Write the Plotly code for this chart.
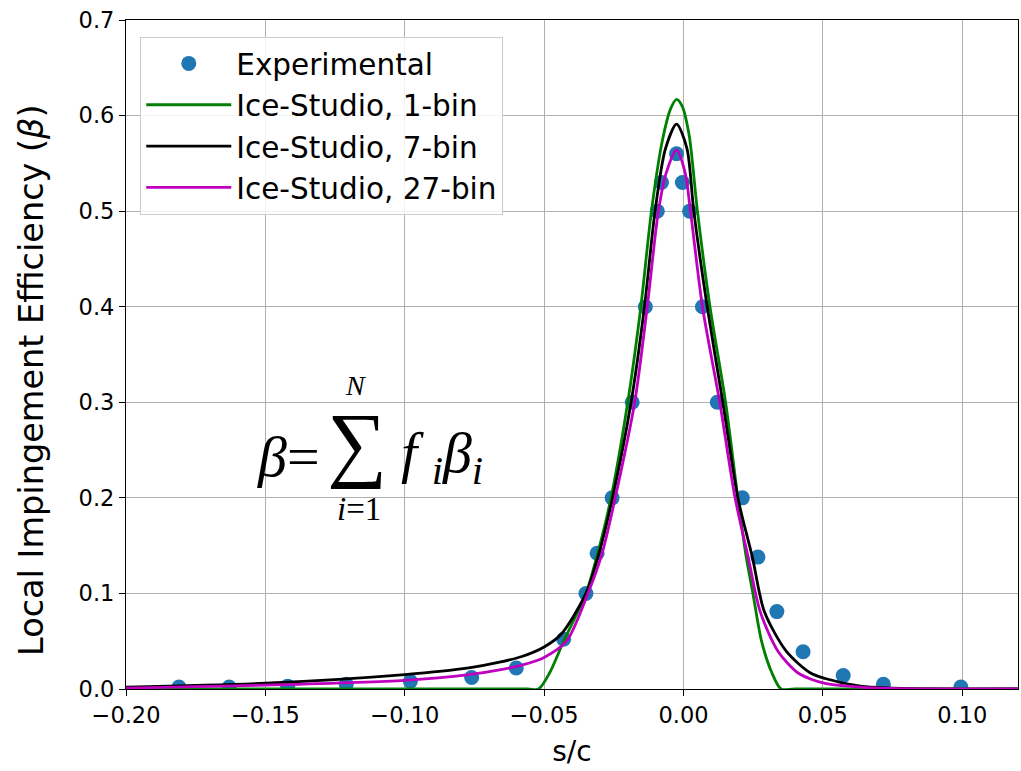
import plotly.graph_objects as go

# Experimental data
exp_x = [-0.181, -0.163, -0.142, -0.121, -0.098, -0.076, -0.060, -0.043, -0.035, -0.031,
         -0.0256, -0.0184, -0.0137, -0.0094, -0.0079, -0.0025, -0.0004, 0.0022, 0.0068, 0.0121,
         0.0211, 0.0267, 0.0335, 0.0429, 0.0573, 0.0717, 0.0995]
exp_y = [0.002, 0.002, 0.003, 0.005, 0.008, 0.012, 0.022, 0.052, 0.100, 0.142,
         0.200, 0.300, 0.400, 0.500, 0.530, 0.560, 0.530, 0.500, 0.400, 0.300,
         0.200, 0.138, 0.081, 0.039, 0.014, 0.005, 0.002]

# Ice-Studio, 1-bin
bin1_x = [-0.20, -0.10, -0.056, -0.052, -0.048, -0.043, -0.035, -0.0305, -0.026, -0.020,
          -0.0153, -0.0115, -0.0075, -0.0045, -0.0025, -0.0005, 0.002, 0.005, 0.0095, 0.0151,
          0.0195, 0.0225, 0.0249, 0.028, 0.0317, 0.035, 0.04, 0.12]
bin1_y = [0.0, 0.0, 0.0, 0.0, 0.017, 0.050, 0.100, 0.145, 0.200, 0.300,
          0.400, 0.500, 0.575, 0.608, 0.617, 0.610, 0.580, 0.500, 0.400, 0.300,
          0.200, 0.138, 0.100, 0.050, 0.017, 0.0, 0.0, 0.0]

# Ice-Studio, 7-bin
bin7_x = [-0.20, -0.15, -0.10, -0.077, -0.066, -0.058, -0.050, -0.044, -0.035, -0.0303,
          -0.0256, -0.0188, -0.0140, -0.0102, -0.0065, -0.0025, 0.0012, 0.0037, 0.0085, 0.0141,
          0.0195, 0.0247, 0.029, 0.037, 0.0454, 0.0508, 0.0635, 0.075, 0.09, 0.12]
bin7_y = [0.002, 0.006, 0.015, 0.022, 0.028, 0.034, 0.044, 0.057, 0.100, 0.142,
          0.198, 0.300, 0.400, 0.500, 0.565, 0.591, 0.566, 0.500, 0.400, 0.300,
          0.200, 0.138, 0.081, 0.039, 0.017, 0.011, 0.003, 0.001, 0.0, 0.0]

# Ice-Studio, 27-bin
bin27_x = [-0.20, -0.15, -0.10, -0.077, -0.066, -0.058, -0.050, -0.042, -0.0343, -0.0292,
           -0.0245, -0.0175, -0.013, -0.0090, -0.0062, -0.0025, 0.0006, 0.0025, 0.0068, 0.013,
           0.0185, 0.0232, 0.0275, 0.034, 0.041, 0.046, 0.0508, 0.0635, 0.075, 0.09, 0.12]
bin27_y = [0.001, 0.004, 0.009, 0.015, 0.020, 0.025, 0.033, 0.050, 0.100, 0.142,
           0.200, 0.300, 0.400, 0.500, 0.540, 0.564, 0.540, 0.500, 0.400, 0.300,
           0.200, 0.138, 0.081, 0.039, 0.017, 0.010, 0.006, 0.002, 0.0005, 0.0, 0.0]

x_ticks = [-0.20, -0.15, -0.10, -0.05, 0.00, 0.05, 0.10]
y_ticks = [0.0, 0.1, 0.2, 0.3, 0.4, 0.5, 0.6, 0.7]

fig = go.Figure()
fig.add_trace(go.Scatter(x=exp_x, y=exp_y, mode="markers", name="Experimental",
                         marker=dict(color="#1f77b4", size=15)))
fig.add_trace(go.Scatter(x=bin1_x, y=bin1_y, mode="lines", name="Ice-Studio, 1-bin",
                         line=dict(color="#008000", width=2.8, shape="spline", smoothing=0.8)))
fig.add_trace(go.Scatter(x=bin7_x, y=bin7_y, mode="lines", name="Ice-Studio, 7-bin",
                         line=dict(color="#000000", width=2.8, shape="spline", smoothing=0.8)))
fig.add_trace(go.Scatter(x=bin27_x, y=bin27_y, mode="lines", name="Ice-Studio, 27-bin",
                         line=dict(color="#bf00bf", width=2.8, shape="spline", smoothing=0.8)))

serif = "Liberation Serif"
fig.add_annotation(x=-0.1536, y=0.243, xref="x", yref="y", xanchor="left", yanchor="middle",
                   text="<i>β</i>=", showarrow=False, font=dict(family=serif, size=58, color="black"))
fig.add_annotation(x=-0.1170, y=0.258, xref="x", yref="y", xanchor="center", yanchor="middle",
                   text="∑", showarrow=False, font=dict(family=serif, size=84, color="black"))
fig.add_annotation(x=-0.1175, y=0.318, xref="x", yref="y", xanchor="center", yanchor="middle",
                   text="<i>N</i>", showarrow=False, font=dict(family=serif, size=28, color="black"))
fig.add_annotation(x=-0.1163, y=0.188, xref="x", yref="y", xanchor="center", yanchor="middle",
                   text="<i>i</i>=1", showarrow=False, font=dict(family=serif, size=33, color="black"))
fig.add_annotation(x=-0.1020, y=0.243, xref="x", yref="y", xanchor="left", yanchor="middle",
                   text="<i>f</i> <sub><i>i</i></sub><i>β</i><sub><i>i</i></sub>", showarrow=False,
                   font=dict(family=serif, size=58, color="black"))

# y-axis label as a rotated annotation (positioned like the reference)
fig.add_annotation(x=-0.1054, y=0.462, xref="paper", yref="paper", xanchor="center", yanchor="middle",
                   text="Local Impingement Efficiency (<i>β</i>)", textangle=-90, showarrow=False,
                   font=dict(family="DejaVu Sans", size=33.5, color="black"))

axis_common = dict(showgrid=True, gridcolor="#b0b0b0", gridwidth=1,
                   showline=True, linecolor="black", linewidth=1.2, mirror=True,
                   ticks="outside", ticklen=6, tickwidth=1.2, tickcolor="black",
                   tickfont=dict(family="DejaVu Sans", size=22.5, color="black"),
                   zeroline=False)

fig.update_layout(
    width=1021, height=771,
    margin=dict(l=126, r=3, t=20, b=82),
    paper_bgcolor="white", plot_bgcolor="white",
    font=dict(family="DejaVu Sans", color="black"),
    xaxis=dict(range=[-0.20, 0.12], tickvals=x_ticks, tickformat=".2f",
               title=dict(text="s/c", font=dict(family="DejaVu Sans", size=28), standoff=14),
               **axis_common),
    yaxis=dict(range=[0, 0.7], tickvals=y_ticks, tickformat=".1f", **axis_common),
    legend=dict(x=0.016, y=0.975, xanchor="left", yanchor="top",
                bgcolor="rgba(255,255,255,0.85)", bordercolor="#cccccc", borderwidth=1,
                itemwidth=85,
                font=dict(family="DejaVu Sans", size=29.5, color="black")),
    showlegend=True,
)

fig.write_html("out.html")
